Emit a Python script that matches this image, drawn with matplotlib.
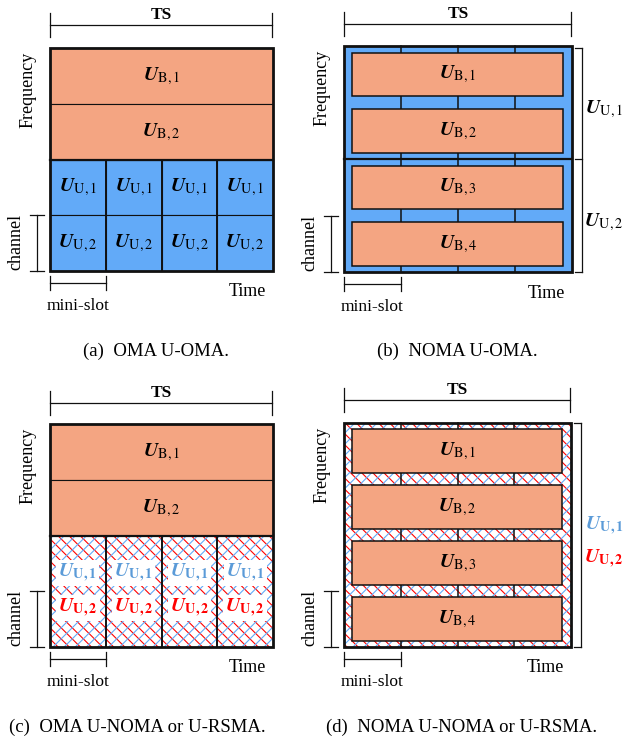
import matplotlib
matplotlib.use('Agg')
import matplotlib.pyplot as plt
from matplotlib.patches import Rectangle

plt.rcParams['font.family'] = ['Liberation Serif', 'DejaVu Serif']
plt.rcParams['mathtext.fontset'] = 'stix'
plt.rcParams['hatch.linewidth'] = 0.8

# diagram content
aCaption = ['(a)  OMA U-OMA.', '(b)  NOMA U-OMA.',
            '(c)  OMA U-NOMA or U-RSMA.', '(d)  NOMA U-NOMA or U-RSMA.']
aBs_left = ['B,1', 'B,2']
aBs_right = ['B,1', 'B,2', 'B,3', 'B,4']
aUser = ['U,1', 'U,2']
nSlot = 4

cOrange = '#F4A582'
cBlue = '#62AAF8'
cBlue_txt = '#5B9BD8'
cRed = '#FF0000'
cLine = '#111111'
sHatch_red = '\\' * 3
sHatch_blue = '/' * 3

fig = plt.figure(figsize=(6.24, 7.41), dpi=100)
ax = fig.add_axes([0, 0, 1, 1])
ax.set_xlim(0, 624)
ax.set_ylim(741, 0)
ax.axis('off')


def ulabel(s, bold_sub=False):
    if bold_sub:
        return r'$\mathbfit{U}_{\mathbf{' + s + '}}$'
    return r'$\mathbfit{U}_{\mathrm{' + s + '}}$'


def hatch_rect(x, y, w, h, z=1):
    ax.add_patch(Rectangle((x, y), w, h, facecolor='white', edgecolor='none', zorder=z))
    ax.add_patch(Rectangle((x, y), w, h, facecolor='none', edgecolor=cRed,
                           hatch=sHatch_red, lw=0, zorder=z + 0.1))
    ax.add_patch(Rectangle((x, y), w, h, facecolor='none', edgecolor=cBlue,
                           hatch=sHatch_blue, lw=0, zorder=z + 0.2))


def axes_decor(x0, y0, w, h, ts_y):
    # TS bracket
    ax.plot([x0, x0 + w - 1], [ts_y, ts_y], color=cLine, lw=0.9)
    for xx in [x0, x0 + w - 1]:
        ax.plot([xx, xx], [ts_y - 12, ts_y + 12], color=cLine, lw=0.9)
    ax.text(x0 + w / 2, ts_y - 10, 'TS', ha='center', va='center',
            fontsize=12.5, fontweight='bold')
    # frequency / channel
    ax.text(x0 - 22, y0 + 42, 'Frequency', rotation=90, ha='center', va='center', fontsize=13)
    ch = h / 4
    ax.plot([x0 - 13, x0 - 13], [y0 + h - ch, y0 + h], color=cLine, lw=0.9)
    for yy in [y0 + h - ch, y0 + h]:
        ax.plot([x0 - 20, x0 - 6], [yy, yy], color=cLine, lw=0.9)
    ax.text(x0 - 34, y0 + h - ch / 2 - 1, 'channel', rotation=90, ha='center', va='center',
            fontsize=13)
    # mini-slot
    sw = w / nSlot
    ym = y0 + h + 12
    ax.plot([x0, x0 + sw], [ym, ym], color=cLine, lw=0.9)
    for xx in [x0, x0 + sw]:
        ax.plot([xx, xx], [ym - 7, ym + 7], color=cLine, lw=0.9)
    ax.text(x0 + sw / 2, ym + 23, 'mini-slot', ha='center', va='center', fontsize=12.5)
    ax.text(x0 + w - 26, y0 + h + 21, 'Time', ha='center', va='center', fontsize=13)


def panel_left(x0, y0, w, h, hatched, ts_y):
    rh = h / 4
    sw = w / nSlot
    for i, s in enumerate(aBs_left):
        ax.add_patch(Rectangle((x0, y0 + i * rh), w, rh, facecolor=cOrange,
                               edgecolor=cLine, lw=0.8, zorder=1))
        ax.text(x0 + w / 2, y0 + (i + 0.5) * rh, ulabel(s), ha='center', va='center',
                fontsize=14.5, zorder=5)
    yu = y0 + 2 * rh
    for k in range(nSlot):
        if hatched:
            hatch_rect(x0 + k * sw, yu, sw, 2 * rh)
            for j, s in enumerate(aUser):
                cc = cBlue_txt if j == 0 else cRed
                ax.text(x0 + (k + 0.5) * sw, yu + rh * (0.68 + 0.62 * j), ulabel(s, True),
                        ha='center', va='center', fontsize=14.5, color=cc, zorder=5,
                        bbox=dict(facecolor='white', edgecolor='none', pad=1.5))
        else:
            for j, s in enumerate(aUser):
                ax.add_patch(Rectangle((x0 + k * sw, yu + j * rh), sw, rh, facecolor=cBlue,
                                       edgecolor=cLine, lw=0.8, zorder=1))
                ax.text(x0 + (k + 0.5) * sw, yu + (j + 0.5) * rh, ulabel(s), ha='center',
                        va='center', fontsize=14.5, zorder=5)
    for k in range(1, nSlot):
        ax.plot([x0 + k * sw] * 2, [yu, y0 + h], color=cLine, lw=1.4, zorder=3)
    ax.plot([x0, x0 + w], [yu, yu], color=cLine, lw=1.6, zorder=3)
    ax.add_patch(Rectangle((x0, y0), w, h, facecolor='none', edgecolor=cLine, lw=2.0, zorder=6))
    axes_decor(x0, y0, w, h, ts_y)


def panel_right(x0, y0, w, h, hatched, ts_y):
    rh = h / 4
    sw = w / nSlot
    if hatched:
        hatch_rect(x0, y0, w, h)
    else:
        ax.add_patch(Rectangle((x0, y0), w, h, facecolor=cBlue, edgecolor='none', zorder=1))
        ax.plot([x0, x0 + w], [y0 + h / 2, y0 + h / 2], color=cLine, lw=1.6, zorder=3)
    for k in range(1, nSlot):
        ax.plot([x0 + k * sw] * 2, [y0, y0 + h], color=cLine, lw=1.1, zorder=2)
    bh = 43.5
    for i, s in enumerate(aBs_right):
        yc = y0 + (i + 0.5) * rh
        ax.add_patch(Rectangle((x0 + 8, yc - bh / 2), w - 17, bh, facecolor=cOrange,
                               edgecolor=cLine, lw=1.1, zorder=4))
        ax.text(x0 + w / 2, yc, ulabel(s), ha='center', va='center', fontsize=14.5, zorder=5)
    ax.add_patch(Rectangle((x0, y0), w, h, facecolor='none', edgecolor=cLine, lw=2.0, zorder=6))
    # right bracket
    xb = x0 + w + 10
    if hatched:
        ax.plot([xb, xb], [y0, y0 + h], color=cLine, lw=0.9)
        for yy in [y0, y0 + h]:
            ax.plot([xb - 7, xb], [yy, yy], color=cLine, lw=0.9)
        for j, s in enumerate(aUser):
            cc = cBlue_txt if j == 0 else cRed
            ax.text(xb + 23, y0 + h * (0.46 + 0.145 * j), ulabel(s, True), ha='center',
                    va='center', fontsize=14.5, color=cc)
    else:
        ax.plot([xb, xb], [y0 + 2, y0 + h], color=cLine, lw=0.9)
        for yy in [y0 + 2, y0 + h / 2, y0 + h]:
            ax.plot([xb - 7, xb], [yy, yy], color=cLine, lw=0.9)
        for j, s in enumerate(aUser):
            ax.text(xb + 22, y0 + h * (0.28 + 0.5 * j), ulabel(s), ha='center',
                    va='center', fontsize=14.5)
    axes_decor(x0, y0, w, h, ts_y)


panel_left(50, 48, 223, 223, False, 25)
panel_right(344, 46, 228, 226, False, 24)
panel_left(50, 424, 223, 223, True, 403)
panel_right(344, 423, 227, 224, True, 400)

ax.text(156, 351, aCaption[0], ha='center', va='center', fontsize=13.5)
ax.text(457, 351, aCaption[1], ha='center', va='center', fontsize=13.5)
ax.text(137, 727, aCaption[2], ha='center', va='center', fontsize=13.5)
ax.text(462, 727, aCaption[3], ha='center', va='center', fontsize=13.5)

plt.savefig('out.png', dpi=100)
